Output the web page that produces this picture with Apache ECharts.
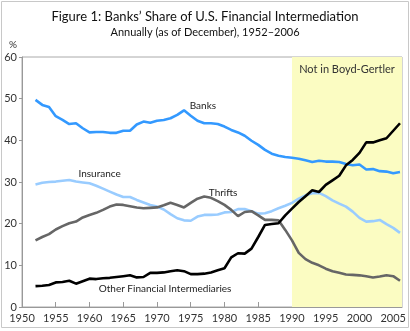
<!DOCTYPE html>
<html><head><meta charset="utf-8">
<script src="https://cdn.jsdelivr.net/npm/echarts@6/dist/echarts.min.js"></script>
<style>html,body{margin:0;padding:0;background:#fff}#c{width:410px;height:331px}</style>
</head><body><div id="c"></div>
<script>
var years = [1952,1953,1954,1955,1956,1957,1958,1959,1960,1961,1962,1963,1964,1965,1966,1967,1968,1969,1970,1971,1972,1973,1974,1975,1976,1977,1978,1979,1980,1981,1982,1983,1984,1985,1986,1987,1988,1989,1990,1991,1992,1993,1994,1995,1996,1997,1998,1999,2000,2001,2002,2003,2004,2005,2006];
var banks = [49.7,48.5,48.0,45.8,44.9,43.9,44.1,42.9,41.9,42.0,42.0,41.8,41.8,42.3,42.3,43.8,44.5,44.2,44.7,44.9,45.3,46.1,47.2,45.9,44.7,44.1,44.1,43.9,43.3,42.5,41.9,41.1,39.9,38.9,37.7,36.8,36.3,36.0,35.8,35.6,35.2,34.8,35.1,34.9,34.9,34.8,34.3,34.0,34.2,33.0,33.1,32.6,32.5,32.1,32.4];
var insurance = [29.4,29.8,30.0,30.1,30.3,30.5,30.1,29.9,29.7,29.1,28.4,27.7,27.0,26.4,26.4,25.7,25.1,24.5,24.1,23.4,22.3,21.3,20.8,20.7,21.7,22.1,22.1,22.2,22.7,22.8,23.5,23.5,23.0,22.4,22.5,23.0,23.7,24.3,25.0,26.0,26.8,27.3,27.4,26.6,25.6,24.8,24.1,22.9,21.4,20.5,20.6,20.9,19.9,19.0,17.8];
var thrifts = [16.0,16.8,17.5,18.6,19.4,20.1,20.5,21.5,22.1,22.6,23.3,24.1,24.6,24.5,24.2,23.9,23.7,23.8,23.9,24.4,25.0,24.5,23.9,25.0,26.0,26.5,26.2,25.4,24.5,23.3,21.8,22.8,23.0,22.0,20.9,20.9,20.8,18.5,16.0,13.0,11.5,10.6,10.0,9.2,8.6,8.2,7.8,7.7,7.6,7.4,7.1,7.3,7.6,7.4,6.3];
var other = [5.0,5.1,5.3,5.9,6.0,6.3,5.6,6.2,6.8,6.7,6.9,7.0,7.2,7.4,7.6,7.1,7.2,8.2,8.2,8.3,8.6,8.8,8.6,7.9,7.9,8.0,8.3,8.8,9.3,11.9,12.9,12.8,14.0,16.8,19.7,19.9,20.1,22.0,23.6,25.2,26.6,28.0,27.6,29.3,30.4,31.5,34.0,35.3,37.0,39.5,39.5,40.0,40.5,42.3,44.1];
var seriesNames = ['Banks','Insurance','Thrifts','Other Financial Intermediaries'];
var labelPos = [[1976.8,48.3],[1961.5,31.9],[1979.8,27.4],[1971.2,4.4]];
var shadeStart = 1990, xMin = 1950, xMax = 2006.3;
var shadeLabel = 'Not in Boyd-Gertler';
var title = 'Figure 1: Banks\u2019 Share of U.S. Financial Intermediation';
var subtitle = 'Annually (as of December), 1952\u20132006';

var FONT = 'Lato,"Open Sans",sans-serif';
function pairs(v){ return years.map(function(y,i){ return [y, v[i]]; }); }
var colors = ['#3399ff','#99ccff','#666666','#000000'];
var vals = [banks, insurance, thrifts, other];
var series = vals.map(function(v,i){
  var s = {
    name: seriesNames[i], type:'line', data: pairs(v), showSymbol:false, symbol:'none',
    lineStyle:{color:colors[i], width:2.6}, z: 3+i, animation:false,
    markPoint:{ symbol:'circle', symbolSize:0, silent:true, animation:false,
      data:[{coord:labelPos[i], label:{show:true, position:'inside', formatter:seriesNames[i], color:'#222', fontSize:10, fontFamily:FONT}}] }
  };
  if(i===0){
    s.markArea = { silent:true, animation:false, itemStyle:{color:'#fbfcc2'},
      label:{show:true, position:'insideTop', distance:7, color:'#333', fontSize:11, fontFamily:FONT},
      data:[[{name:shadeLabel, xAxis:shadeStart},{xAxis:xMax}]] };
  }
  return s;
});
var chart = echarts.init(document.getElementById('c'), null, {renderer:'canvas'});
chart.setOption({
  animation:false,
  graphic:[
    {type:'rect', shape:{x:1.5,y:1.5,width:407,height:326}, style:{fill:'none', stroke:'#c8c8c8', lineWidth:1}, z:-1},
    {type:'text', left:'center', top:10, style:{text:title, font:'13px '+FONT, fill:'#111'}},
    {type:'text', left:'center', top:27, style:{text:subtitle, font:'11px '+FONT, fill:'#111'}},
    {type:'text', left:9, top:40, style:{text:'%', font:'10px '+FONT, fill:'#333'}}
  ],
  grid:{left:22, right:8, top:57, bottom:24, show:true, borderColor:'#aaa', borderWidth:1, backgroundColor:'transparent'},
  xAxis:{type:'value', min:xMin, max:xMax, interval:5,
    axisLine:{lineStyle:{color:'#999'}}, axisTick:{inside:true, length:5, lineStyle:{color:'#999'}},
    splitLine:{show:false},
    axisLabel:{color:'#333', fontSize:11, fontFamily:FONT, margin:6, showMaxLabel:false, formatter:function(v){return String(v);}}},
  yAxis:{type:'value', min:0, max:60, interval:10,
    axisLine:{show:true, lineStyle:{color:'#999'}}, axisTick:{show:true, length:3, lineStyle:{color:'#999'}},
    splitLine:{show:false},
    axisLabel:{color:'#333', fontSize:11, fontFamily:FONT, margin:5}},
  series: series
});
</script></body></html>
